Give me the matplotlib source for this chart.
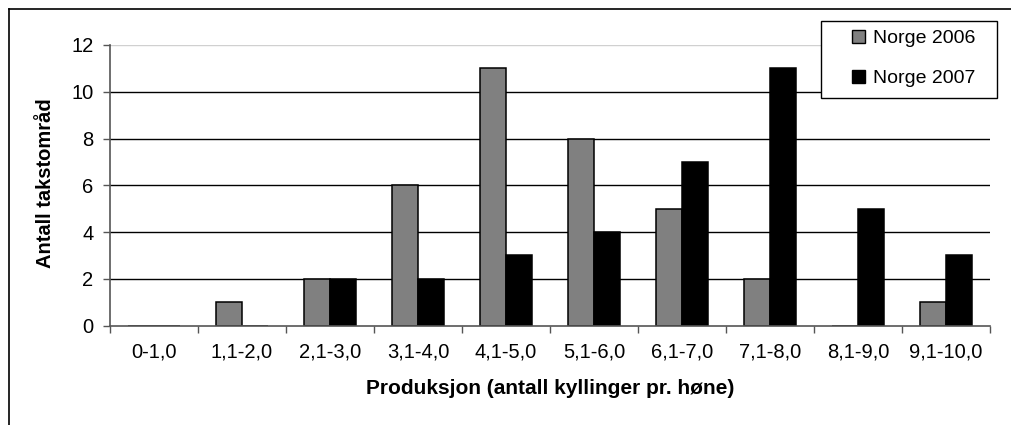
import numpy as np
import matplotlib
matplotlib.use("Agg")
import matplotlib.pyplot as plt
from matplotlib.patches import Patch, Rectangle
from matplotlib.lines import Line2D

plt.rcParams['font.family'] = ['Liberation Sans', 'DejaVu Sans']

# data
categories = ["0-1,0", "1,1-2,0", "2,1-3,0", "3,1-4,0", "4,1-5,0",
              "5,1-6,0", "6,1-7,0", "7,1-8,0", "8,1-9,0", "9,1-10,0"]
norge_2006 = [0, 1, 2, 6, 11, 8, 5, 2, 0, 1]
norge_2007 = [0, 0, 2, 2, 3, 4, 7, 11, 5, 3]
series_names = ["Norge 2006", "Norge 2007"]
yticks = [0, 2, 4, 6, 8, 10, 12]

W, H = 1012, 425
fig = plt.figure(figsize=(W / 100, H / 100), dpi=100)
ax = fig.add_axes([110 / W, 1 - 325.5 / H, 880 / W, 280.5 / H])

x = np.arange(len(categories))
bw = 0.29
ax.bar(x - bw / 2, norge_2006, width=bw, color='#808080', edgecolor='black', linewidth=1.1, zorder=3)
ax.bar(x + bw / 2, norge_2007, width=bw, color='black', edgecolor='black', linewidth=1.1, zorder=3)

fs = 14.5
ax.set_xlim(-0.5, len(categories) - 0.5)
ax.set_ylim(0, 12)
ax.set_yticks(yticks)
ax.set_yticklabels([str(v) for v in yticks], fontsize=fs)
ax.set_xticks(x)
ax.set_xticklabels(categories, fontsize=fs)
ax.set_xticks(np.arange(len(categories) + 1) - 0.5, minor=True)
ax.tick_params(axis='x', which='major', length=0, pad=12)
ax.tick_params(axis='x', which='minor', length=5, width=1, color='#555555', direction='out')
ax.tick_params(axis='y', length=5, width=1, color='#555555', direction='out', pad=7)

for v in yticks[1:-1]:
    ax.axhline(v, color='black', linewidth=1.0, zorder=1)
ax.axhline(12, color='#d0d0d0', linewidth=1.0, zorder=1)

for s in ['top', 'right']:
    ax.spines[s].set_visible(False)
for s in ['left', 'bottom']:
    ax.spines[s].set_color('#555555')
    ax.spines[s].set_linewidth(1.2)
    ax.spines[s].set_zorder(4)

fig.text(46 / W, 1 - 183.5 / H, "Antall takstområd", rotation=90, ha='center', va='center',
         fontsize=fs, fontweight='bold')
fig.text(550 / W, 1 - 388 / H, "Produksjon (antall kyllinger pr. høne)", ha='center', va='center',
         fontsize=fs + 0.5, fontweight='bold')

# legend box
fig.add_artist(Rectangle((821 / W, 1 - 98 / H), 176 / W, 77 / H, transform=fig.transFigure,
                         facecolor='white', edgecolor='black', linewidth=1.0, zorder=5))
handles = [Patch(facecolor='#808080', edgecolor='black', linewidth=1.0),
           Patch(facecolor='black', edgecolor='black', linewidth=1.0)]
leg = fig.legend(handles, series_names, loc='upper left', bbox_to_anchor=(852 / W, 1 - 30 / H),
                 fontsize=fs - 0.5, frameon=False, handlelength=0.68, handleheight=0.68,
                 handletextpad=0.38, borderpad=0, labelspacing=1.15, borderaxespad=0)
leg.set_zorder(6)

# outer chart border (cropped on right and bottom)
fig.add_artist(Line2D([9 / W, 9 / W], [0, 1 - 9 / H], color='black', linewidth=1.2, transform=fig.transFigure))
fig.add_artist(Line2D([9 / W, 1], [1 - 9 / H, 1 - 9 / H], color='black', linewidth=1.2, transform=fig.transFigure))

fig.savefig("out.png", dpi=100)
